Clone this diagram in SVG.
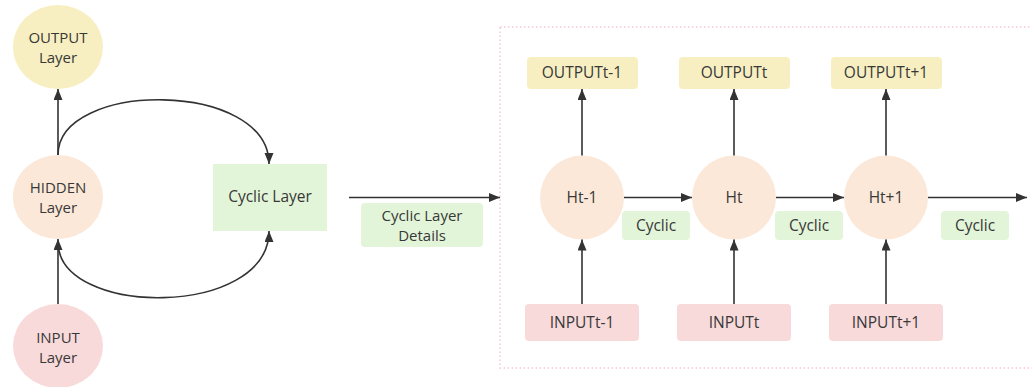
<svg xmlns="http://www.w3.org/2000/svg" width="1032" height="387" viewBox="0 0 1032 387">
  <style>
    text { font-family: "Open Sans", "Noto Sans", "Liberation Sans", sans-serif; font-size: 15.5px; fill: #383838; text-anchor: middle; dominant-baseline: central; }
    text.two { font-size: 15px; }
    .out { fill: #f7efc1; }
    .hid { fill: #fbe8d9; }
    .inp { fill: #f9dada; }
    .cyc { fill: #e2f5d9; }
    .edge { fill: none; stroke: #333; stroke-width: 1.6; marker-end: url(#arrow); }
    .frame { fill: none; stroke: #f6c8d2; stroke-width: 1.5; stroke-dasharray: 1.5 2.5; }
  </style>
  <defs>
    <marker id="arrow" markerUnits="userSpaceOnUse" markerWidth="12" markerHeight="10" refX="11" refY="4.5" orient="auto">
      <path d="M0,0 L11,4.5 L0,9 z" fill="#333"/>
    </marker>
  </defs>

  <rect width="1032" height="387" fill="#ffffff"/>

  <!-- frame around the unrolled view -->
  <rect class="frame" x="500" y="27" width="560" height="341"/>

  <!-- folded network -->
  <g id="output-layer">
    <ellipse class="out" cx="58" cy="47" rx="45" ry="42"/>
    <text class="two" x="58" y="36.5">OUTPUT</text>
    <text class="two" x="58" y="57">Layer</text>
  </g>
  <g id="hidden-layer">
    <ellipse class="hid" cx="58" cy="197" rx="45" ry="42"/>
    <text class="two" x="58" y="186.5">HIDDEN</text>
    <text class="two" x="58" y="207">Layer</text>
  </g>
  <g id="input-layer">
    <ellipse class="inp" cx="58" cy="346" rx="45" ry="42"/>
    <text class="two" x="58" y="336.5">INPUT</text>
    <text class="two" x="58" y="357">Layer</text>
  </g>
  <g id="cyclic-layer">
    <rect class="cyc" x="213" y="164" width="114" height="67"/>
    <text x="270" y="196">Cyclic Layer</text>
  </g>
  <g id="details-label">
    <rect class="cyc" x="361" y="203" width="122" height="44" rx="4"/>
    <text class="two" x="422" y="214.5">Cyclic Layer</text>
    <text class="two" x="422" y="235">Details</text>
  </g>

  <!-- unrolled time steps -->
  <g id="output-t-1">
    <rect class="out" x="527" y="57" width="111" height="32" rx="4"/>
    <text x="582" y="72">OUTPUTt-1</text>
  </g>
  <g id="output-t">
    <rect class="out" x="679" y="57" width="111" height="32" rx="4"/>
    <text x="734" y="72">OUTPUTt</text>
  </g>
  <g id="output-t1">
    <rect class="out" x="831" y="57" width="111" height="32" rx="4"/>
    <text x="886" y="72">OUTPUTt+1</text>
  </g>

  <g id="h-t-1">
    <circle class="hid" cx="582" cy="197.5" r="42"/>
    <text x="582" y="196.5">Ht-1</text>
  </g>
  <g id="h-t">
    <circle class="hid" cx="734" cy="197.5" r="42"/>
    <text x="734" y="196.5">Ht</text>
  </g>
  <g id="h-t1">
    <circle class="hid" cx="886" cy="197.5" r="42"/>
    <text x="886" y="196.5">Ht+1</text>
  </g>

  <g id="input-t-1">
    <rect class="inp" x="525" y="304" width="114" height="37" rx="4"/>
    <text x="582" y="322">INPUTt-1</text>
  </g>
  <g id="input-t">
    <rect class="inp" x="677" y="304" width="114" height="37" rx="4"/>
    <text x="734" y="322">INPUTt</text>
  </g>
  <g id="input-t1">
    <rect class="inp" x="829" y="304" width="114" height="37" rx="4"/>
    <text x="886" y="322">INPUTt+1</text>
  </g>

  <g id="cyclic-1">
    <rect class="cyc" x="622" y="211" width="68" height="29" rx="4"/>
    <text x="656" y="224.5">Cyclic</text>
  </g>
  <g id="cyclic-2">
    <rect class="cyc" x="775" y="211" width="68" height="29" rx="4"/>
    <text x="809" y="224.5">Cyclic</text>
  </g>
  <g id="cyclic-3">
    <rect class="cyc" x="941" y="211" width="68" height="29" rx="4"/>
    <text x="975" y="224.5">Cyclic</text>
  </g>

  <!-- connectors -->
  <g id="connectors">
    <path class="edge" d="M58,155 L58,89"/>
    <path class="edge" d="M58,304 L58,239"/>
    <path class="edge" d="M58,155 C58,80 269,80 269,164"/>
    <path class="edge" d="M58,242 C58,318 269,318 269,231"/>
    <path class="edge" d="M349,197.5 L500,197.5"/>

    <path class="edge" d="M582,155.5 L582,89"/>
    <path class="edge" d="M734,155.5 L734,89"/>
    <path class="edge" d="M886,155.5 L886,89"/>

    <path class="edge" d="M582,304 L582,239.5"/>
    <path class="edge" d="M734,304 L734,239.5"/>
    <path class="edge" d="M886,304 L886,239.5"/>

    <path class="edge" d="M624,197.5 L692,197.5"/>
    <path class="edge" d="M776,197.5 L844,197.5"/>
    <path class="edge" d="M928,197.5 L1027,197.5"/>
  </g>
</svg>
